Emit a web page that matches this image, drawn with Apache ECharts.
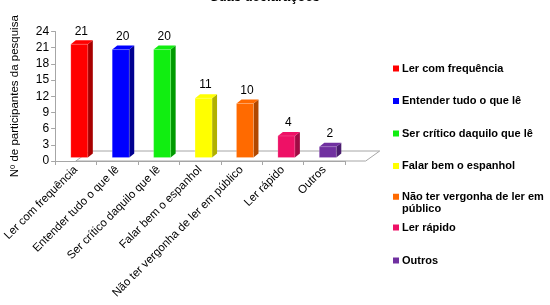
<!DOCTYPE html>
<html>
<head>
<meta charset="utf-8">
<script src="https://cdn.jsdelivr.net/npm/echarts@6/dist/echarts.min.js"></script>
<style>
  html, body { margin: 0; padding: 0; background: #fff; }
  #main { width: 550px; height: 305px; }
</style>
</head>
<body>
<div id="main"></div>
<script>
// categorias e valores
var categorias = ['Ler com frequência', 'Entender tudo o que lê', 'Ser crítico daquilo que lê',
  'Falar bem o espanhol', 'Não ter vergonha de ler em público', 'Ler rápido', 'Outros'];
var valores = [21, 20, 20, 11, 10, 4, 2];
var cores = ['#ff0000', '#0000ff', '#11ee11', '#ffff00', '#ff6a00', '#ee1166', '#7030a0'];
var coresLado = ['#a80000', '#000090', '#009a00', '#b0b000', '#b04800', '#a00a44', '#4a1c6e'];
var ticksY = [0, 3, 6, 9, 12, 15, 18, 21, 24];

var myChart = echarts.init(document.getElementById('main'));

// barra 3D: face frontal, lateral e topo
function barra3d(idx) {
  return function (params, api) {
    var i = api.value(0), v = api.value(1);
    var base = api.coord([i, 0]);
    var topo = api.coord([i, v]);
    var cx = base[0] + 3.5, w = 17;
    var x0 = cx - w / 2, x1 = cx + w / 2;
    var yb = base[1] - 3.5, yt = topo[1] - 3.5;
    var dx = 5, dy = -4;
    return {
      type: 'group',
      children: [
        {
          type: 'polygon',
          shape: { points: [[x1, yb], [x1 + dx, yb + dy], [x1 + dx, yt + dy], [x1, yt]] },
          style: { fill: coresLado[idx] }
        },
        {
          type: 'polygon',
          shape: { points: [[x0, yt], [x1, yt], [x1 + dx, yt + dy], [x0 + dx, yt + dy]] },
          style: { fill: cores[idx] }
        },
        {
          type: 'rect',
          shape: { x: x0, y: yt, width: w, height: yb - yt },
          style: { fill: cores[idx], stroke: 'rgba(255,255,255,0.35)', lineWidth: 0.5 }
        },
        {
          type: 'text',
          style: {
            text: String(v), x: cx + 2, y: yt + dy - 3,
            align: 'center', verticalAlign: 'bottom',
            fill: '#000', fontSize: 12, fontFamily: 'Liberation Sans, Arial'
          }
        }
      ]
    };
  };
}

// piso em perspectiva
function piso(params, api) {
  var a = api.coord([-0.5, 0]);
  var b = api.coord([categorias.length - 0.5, 0]);
  var dx = 14, dy = -10;
  return {
    type: 'polygon',
    shape: { points: [[a[0], a[1]], [b[0], b[1]], [b[0] + dx, b[1] + dy], [a[0] + dx, a[1] + dy]] },
    style: { fill: '#fff', stroke: '#a6a6a6', lineWidth: 1 }
  };
}

var series = [{
  type: 'custom',
  name: '_piso',
  renderItem: piso,
  data: [[0, 0]],
  silent: true,
  z: 1
}];
categorias.forEach(function (c, i) {
  series.push({
    type: 'custom',
    name: c,
    color: cores[i],
    renderItem: barra3d(i),
    data: [[i, valores[i]]],
    encode: { x: 0, y: 1 },
    z: 2
  });
});

var estiloLegenda = { fontSize: 11, fontWeight: 'bold', color: '#000', fontFamily: 'Liberation Sans, Arial' };

var option = {
  animation: false,
  title: {
    text: 'Suas declarações',
    left: 205, top: -14,
    textStyle: { fontSize: 13, fontWeight: 'bold', color: '#000', fontFamily: 'Liberation Sans, Arial' }
  },
  grid: { left: 53, right: 205, top: 31.5, bottom: 144 },
  legend: [
    {
      data: categorias.slice(0, 4),
      orient: 'vertical', left: 388, top: 58,
      itemWidth: 6, itemHeight: 6, itemGap: 21.5, icon: 'rect',
      textStyle: Object.assign({ padding: [0, 0, 0, -2] }, estiloLegenda)
    },
    {
      // linha vazia acima para manter o icone na primeira linha
      data: [categorias[4]],
      orient: 'vertical', left: 388, top: 173,
      itemWidth: 6, itemHeight: 6, icon: 'rect',
      formatter: function () { return ' \nNão ter vergonha de ler em\npúblico'; },
      textStyle: Object.assign({ padding: [0, 0, 0, -2], lineHeight: 12.5 }, estiloLegenda)
    },
    {
      data: categorias.slice(5),
      orient: 'vertical', left: 388, top: 217,
      itemWidth: 6, itemHeight: 6, itemGap: 22, icon: 'rect',
      textStyle: Object.assign({ padding: [0, 0, 0, -2] }, estiloLegenda)
    }
  ],
  xAxis: {
    type: 'category',
    data: categorias,
    axisLine: { lineStyle: { color: '#a6a6a6' } },
    axisTick: { show: true, length: 4, lineStyle: { color: '#a6a6a6' } },
    axisLabel: {
      interval: 0, rotate: 45, margin: 7,
      color: '#000', fontSize: 11.5, fontFamily: 'Liberation Sans, Arial'
    }
  },
  yAxis: {
    type: 'value',
    min: ticksY[0], max: ticksY[ticksY.length - 1], interval: 3,
    name: 'Nº de participantes da pesquisa',
    nameLocation: 'middle', nameGap: 34, nameRotate: 90,
    nameTextStyle: { color: '#000', fontSize: 11.5, fontFamily: 'Liberation Sans, Arial' },
    axisLine: { show: true, lineStyle: { color: '#a6a6a6' } },
    axisTick: { show: true, length: 4, lineStyle: { color: '#a6a6a6' } },
    splitLine: { show: false },
    axisLabel: { color: '#000', fontSize: 12, margin: 6, fontFamily: 'Liberation Sans, Arial' }
  },
  series: series
};
myChart.setOption(option);
</script>
</body>
</html>
